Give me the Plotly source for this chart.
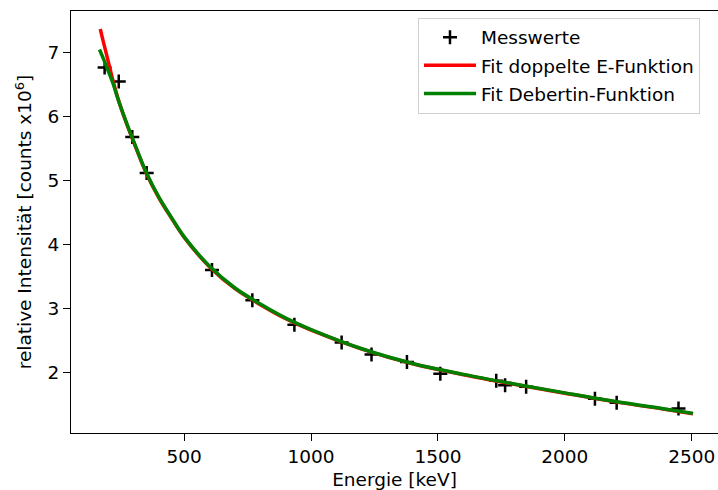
import plotly.graph_objects as go

# Messwerte (Ra-226 Linien)
energie_keV = [186.2, 241.9, 295.2, 351.9, 609.3, 768.4, 934.1, 1120.3, 1238.1,
               1377.7, 1509.2, 1729.6, 1764.5, 1847.4, 2118.6, 2204.2, 2447.9]
intensitaet = [6.77, 6.55, 5.68, 5.12, 3.60, 3.13, 2.745, 2.47, 2.28,
               2.165, 1.98, 1.87, 1.80, 1.775, 1.59, 1.525, 1.435]

# Fit doppelte E-Funktion
fit_e_energie = [169, 180, 200, 220, 240, 270, 300, 350, 400, 450, 500, 600, 700,
                 800, 900, 1000, 1200, 1400, 1600, 1800, 2000, 2200, 2400, 2505]
fit_e_werte = [7.37, 7.19, 6.87, 6.55, 6.27, 5.92, 5.61, 5.12, 4.73, 4.41, 4.11, 3.65, 3.31,
               3.06, 2.84, 2.66, 2.365, 2.135, 1.965, 1.815, 1.675, 1.54, 1.42, 1.355]

# Fit Debertin-Funktion
fit_d_energie = [166, 180, 200, 220, 240, 270, 300, 350, 400, 450, 500, 600, 700,
                 800, 900, 1000, 1200, 1400, 1600, 1800, 2000, 2200, 2400, 2505]
fit_d_werte = [7.05, 6.92, 6.72, 6.51, 6.26, 5.93, 5.62, 5.13, 4.74, 4.42, 4.12, 3.66, 3.32,
               3.07, 2.85, 2.67, 2.37, 2.14, 1.97, 1.82, 1.68, 1.545, 1.425, 1.36]

x_ticks = [500, 1000, 1500, 2000, 2500]
y_ticks = [2, 3, 4, 5, 6, 7]

FONT = "DejaVu Sans"
FS = 18.5

fig = go.Figure()
fig.add_trace(go.Scatter(
    x=energie_keV, y=intensitaet, mode="markers", name="Messwerte", legendgroup="a",
    marker=dict(symbol="cross-thin", size=10, color="black",
                line=dict(width=2.5, color="black")),
))
fig.add_trace(go.Scatter(
    x=fit_e_energie, y=fit_e_werte, mode="lines", name="Fit doppelte E-Funktion",
    legendgroup="b", line=dict(color="red", width=3.5, shape="spline"),
))
fig.add_trace(go.Scatter(
    x=fit_d_energie, y=fit_d_werte, mode="lines", name="Fit Debertin-Funktion",
    legendgroup="c", line=dict(color="green", width=3.5, shape="spline"),
))

axis_common = dict(
    showgrid=False, zeroline=False, showline=True, linecolor="black", linewidth=1.2,
    ticks="outside", ticklen=7, tickwidth=1.2, tickcolor="black",
    tickfont=dict(family=FONT, size=FS, color="black"),
)

fig.update_xaxes(
    **axis_common, range=[53.7, 2603.6], tickvals=x_ticks, mirror=True,
    title=dict(text="Energie [keV]", font=dict(family=FONT, size=FS, color="black"),
               standoff=6),
)
fig.update_yaxes(
    **axis_common, range=[1.053, 7.652], tickvals=y_ticks, mirror=False,
    title=dict(text="relative Intensität [counts x10<sup>6</sup>]",
               font=dict(family=FONT, size=FS, color="black"), standoff=10),
)

fig.update_layout(
    width=718, height=490,
    margin=dict(l=71, r=0, t=11, b=57),
    paper_bgcolor="white", plot_bgcolor="white",
    font=dict(family=FONT, size=FS, color="black"),
    showlegend=True,
    legend=dict(
        x=0.5363, y=0.984, xanchor="left", yanchor="top",
        bgcolor="white", bordercolor="#d0d0d0", borderwidth=1,
        font=dict(family=FONT, size=FS, color="black"),
        tracegroupgap=1, itemwidth=52,
    ),
)

fig.write_html("out.html")
